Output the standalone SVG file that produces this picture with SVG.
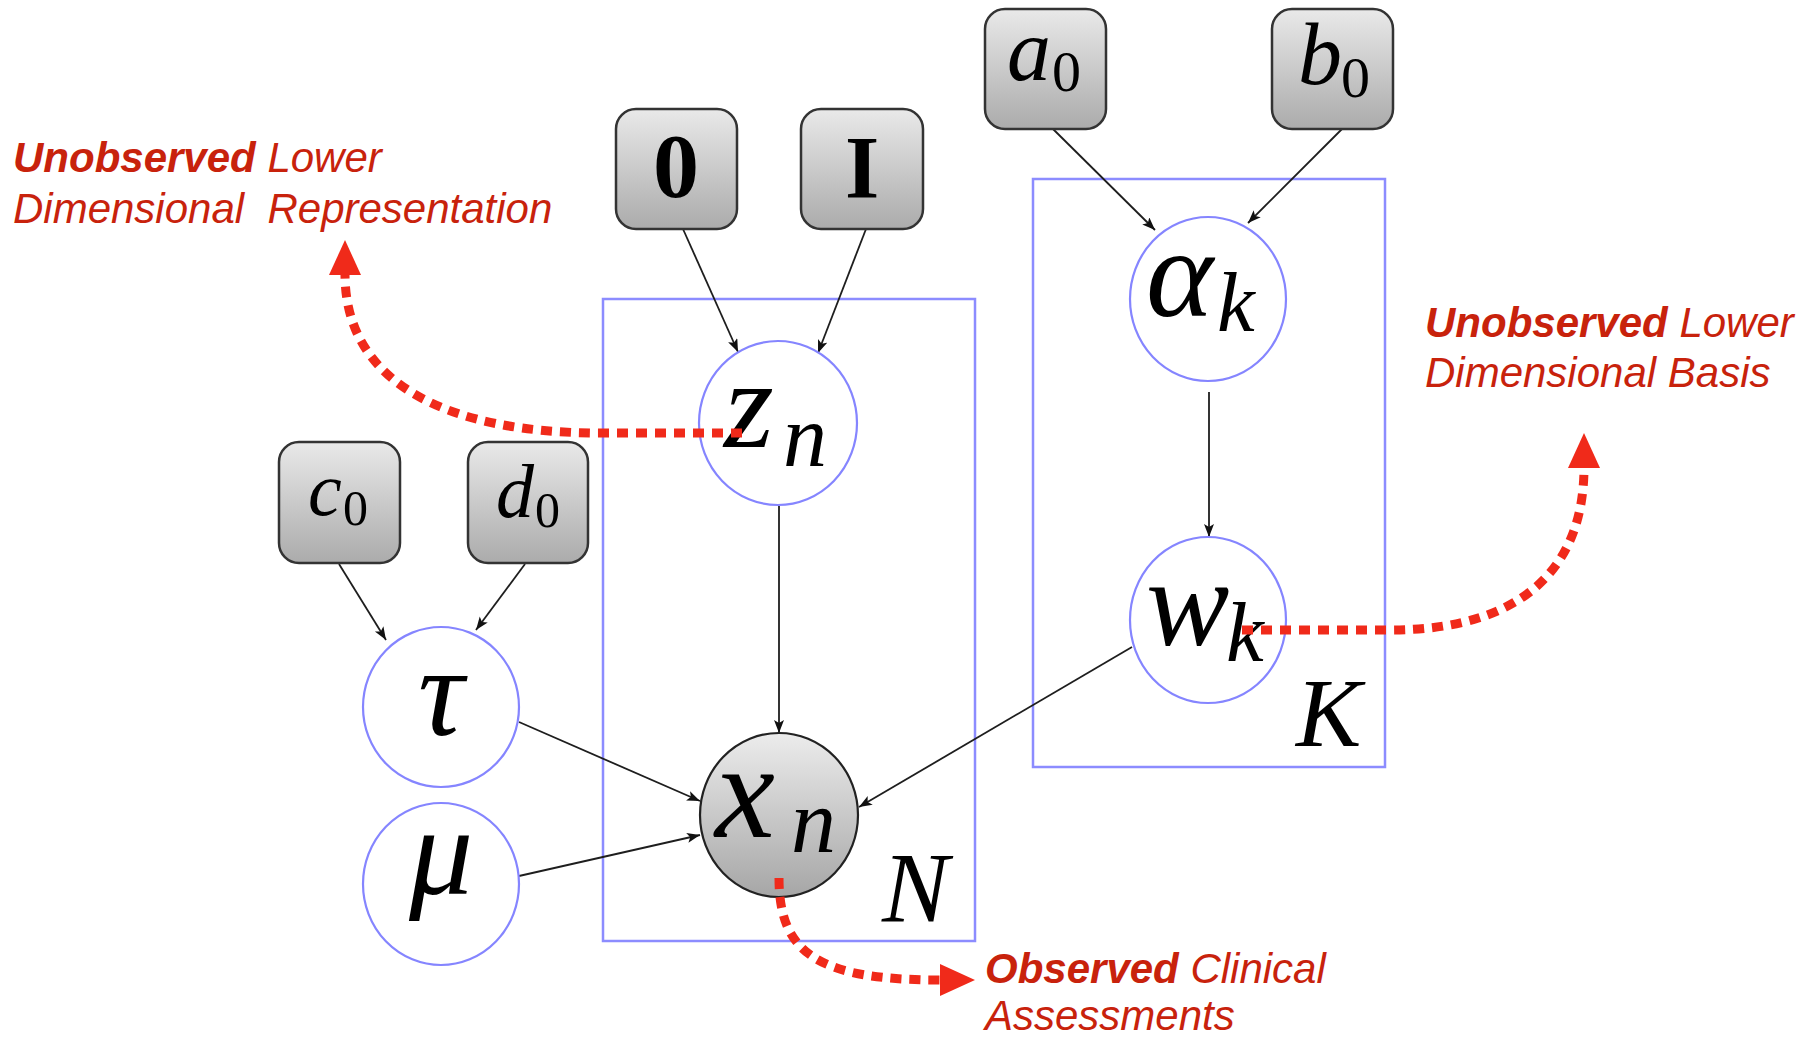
<svg xmlns="http://www.w3.org/2000/svg" width="1820" height="1037" viewBox="0 0 1820 1037">
<style>
.plate{fill:none;stroke:#8c8cff;stroke-width:2.5}
.lat{fill:#ffffff;stroke:#8585ff;stroke-width:2.2}
.obs{fill:url(#gN);stroke:#222;stroke-width:2.2}
.box{fill:url(#gB);stroke:#333;stroke-width:2.5}
.edge{fill:none;stroke:#1e1e1e;stroke-width:1.8;marker-end:url(#ah)}
.m{font-family:"Liberation Serif","Times New Roman",serif;font-style:italic;fill:#000}
.d{font-family:"Liberation Serif","Times New Roman",serif;fill:#000}
.bf{font-family:"Liberation Serif","Times New Roman",serif;font-weight:bold;fill:#000}
.ann{font-family:"Liberation Sans",Arial,sans-serif;font-style:italic;font-size:42px;fill:#c8220c}
.ann .b{font-weight:bold}
.dot{fill:none;stroke:#f02a1a;stroke-width:9;stroke-dasharray:11 8;marker-end:url(#rh)}
</style>
<defs>
<linearGradient id="gB" x1="0" y1="0" x2="0" y2="1">
<stop offset="0" stop-color="#e9e9e9"/>
<stop offset="1" stop-color="#ababab"/>
</linearGradient>
<linearGradient id="gN" x1="0" y1="0" x2="0" y2="1">
<stop offset="0" stop-color="#ececec"/>
<stop offset="1" stop-color="#a6a6a6"/>
</linearGradient>
<marker id="ah" markerUnits="userSpaceOnUse" markerWidth="14" markerHeight="12" refX="13" refY="5" orient="auto">
<path d="M0,0 L13,5 L0,10 L3,5 z" fill="#111"/>
</marker>
<marker id="rh" markerUnits="userSpaceOnUse" markerWidth="38" markerHeight="34" refX="1" refY="16" orient="auto">
<path d="M0,0 L35,16 L0,32 z" fill="#f02a1a"/>
</marker>
</defs>
<rect width="1820" height="1037" fill="#ffffff"/>

<g id="plate-N"><rect class="plate" x="603" y="299" width="372" height="642"/><text class="m" x="882" y="921" font-size="100">N</text></g>
<g id="plate-K"><rect class="plate" x="1033" y="179" width="352" height="588"/><text class="m" x="1296" y="746" font-size="98">K</text></g>

<g id="connectors">
<path class="edge" d="M683,229 L738,352"/>
<path class="edge" d="M866,229 L818,353"/>
<path class="edge" d="M1053,129 L1155,230"/>
<path class="edge" d="M1342,129 L1248,223"/>
<path class="edge" d="M339,564 L386,640"/>
<path class="edge" d="M525,564 L476,630"/>
<path class="edge" d="M779,506 L779,733"/>
<path class="edge" d="M1209,392 L1209,537"/>
<path class="edge" d="M519,722 L700,801"/>
<path class="edge" d="M519,876 L700,835"/>
<path class="edge" d="M1132,647 L859,807"/>
</g>

<g id="node-0"><rect class="box" x="616" y="109" width="121" height="120" rx="20"/><text class="bf" x="676" y="197" font-size="92" text-anchor="middle">0</text></g>
<g id="node-I"><rect class="box" x="801" y="109" width="122" height="120" rx="20"/><text class="bf" x="862" y="197" font-size="88" text-anchor="middle">I</text></g>
<g id="node-a0"><rect class="box" x="985" y="9" width="121" height="120" rx="20"/><text class="m" x="1007" y="80" font-size="88">a</text><text class="d" x="1052" y="91" font-size="58">0</text></g>
<g id="node-b0"><rect class="box" x="1272" y="9" width="121" height="120" rx="20"/><text class="m" x="1298" y="84" font-size="88">b</text><text class="d" x="1341" y="97" font-size="58">0</text></g>
<g id="node-c0"><rect class="box" x="279" y="442" width="121" height="121" rx="20"/><text class="m" x="308" y="515" font-size="76">c</text><text class="d" x="343" y="525" font-size="50">0</text></g>
<g id="node-d0"><rect class="box" x="468" y="442" width="120" height="121" rx="20"/><text class="m" x="496" y="517" font-size="76">d</text><text class="d" x="535" y="527" font-size="50">0</text></g>

<g id="node-zn"><ellipse class="lat" cx="778" cy="423" rx="79" ry="82"/><text class="m" x="724" y="447" font-size="128">z</text><text class="m" x="783" y="466" font-size="88">n</text></g>
<g id="node-alpha"><ellipse class="lat" cx="1208" cy="299" rx="78" ry="82"/><text class="m" x="1146" y="316" font-size="128">α</text><text class="m" x="1217" y="331" font-size="85">k</text></g>
<g id="node-wk"><ellipse class="lat" cx="1208" cy="620" rx="78" ry="83"/><text class="m" x="1146" y="645" font-size="125">w</text><text class="m" x="1226" y="661" font-size="85">k</text></g>
<g id="node-tau"><ellipse class="lat" cx="441" cy="707" rx="78" ry="80"/><text class="m" x="441" y="735" font-size="128" text-anchor="middle">τ</text></g>
<g id="node-mu"><ellipse class="lat" cx="441" cy="884" rx="78" ry="81"/><text class="m" x="441" y="894" font-size="128" text-anchor="middle">μ</text></g>
<g id="node-xn"><ellipse class="obs" cx="779" cy="815" rx="79" ry="82"/><text class="m" x="715" y="837" font-size="135">x</text><text class="m" x="791" y="852" font-size="90">n</text></g>

<g id="annotations">
<path class="dot" d="M742,433 L600,433 C450,433 345,385 345,274"/>
<path class="dot" d="M779,878 C779,955 820,980 941,980"/>
<path class="dot" d="M1242,630 L1390,630 C1520,630 1584,570 1584,467"/>
<text class="ann" x="13" y="172"><tspan class="b">Unobserved</tspan> Lower</text>
<text class="ann" x="13" y="223" xml:space="preserve">Dimensional  Representation</text>
<text class="ann" x="1425" y="337"><tspan class="b">Unobserved</tspan> Lower</text>
<text class="ann" x="1425" y="387">Dimensional Basis</text>
<text class="ann" x="985" y="983"><tspan class="b">Observed</tspan> Clinical</text>
<text class="ann" x="985" y="1030">Assessments</text>
</g>
</svg>
